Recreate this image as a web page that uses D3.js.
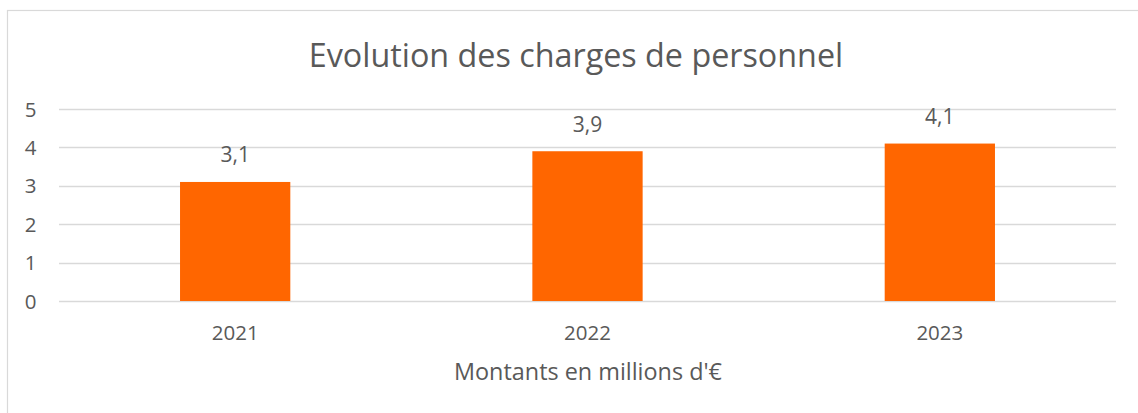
<!DOCTYPE html>
<html>
<head>
<meta charset="utf-8">
<script src="https://cdn.jsdelivr.net/npm/d3@7"></script>
<style>
  html, body { margin: 0; padding: 0; background: #fff; }
  svg { display: block; }
  text { font-family: "Open Sans", "Noto Sans", sans-serif; fill: #595959; }
</style>
</head>
<body>
<svg id="chart" width="1138" height="413"></svg>
<script>
// Personnel costs per year (millions of euros)
const years = ["2021", "2022", "2023"];
const amounts = [3.1, 3.9, 4.1];
const yTicks = [0, 1, 2, 3, 4, 5];
const title = "Evolution des charges de personnel";
const xTitle = "Montants en millions d'€";

const svg = d3.select("#chart");

// outer frame (continues past the right and bottom edges)
svg.append("rect")
  .attr("x", 7.5).attr("y", 10.5)
  .attr("width", 1140).attr("height", 420)
  .attr("fill", "#fff").attr("stroke", "#d9d9d9").attr("stroke-width", 1.2);

const plot = { left: 59, right: 1116, top: 109, bottom: 301 };

const x = d3.scaleBand()
  .domain(years)
  .range([plot.left, plot.right])
  .paddingInner(0.687)
  .paddingOuter(0.3435);

const y = d3.scaleLinear()
  .domain([0, 5])
  .range([plot.bottom, plot.top]);

// horizontal gridlines
svg.append("g")
  .selectAll("line")
  .data(yTicks)
  .join("line")
  .attr("x1", plot.left).attr("x2", plot.right)
  .attr("y1", d => Math.round(y(d)) + 0.5)
  .attr("y2", d => Math.round(y(d)) + 0.5)
  .attr("stroke", "#d9d9d9").attr("stroke-width", 1.3);

// y tick labels
svg.append("g")
  .selectAll("text")
  .data(yTicks)
  .join("text")
  .attr("x", 30.5)
  .attr("y", d => y(d) + 7.5)
  .attr("text-anchor", "middle")
  .attr("font-size", 20.5)
  .text(d => d);

// bars
svg.append("g")
  .selectAll("rect")
  .data(amounts)
  .join("rect")
  .attr("x", (d, i) => x(years[i]))
  .attr("width", x.bandwidth())
  .attr("y", d => y(d))
  .attr("height", d => y(0) - y(d))
  .attr("fill", "#ff6600");

// value labels
svg.append("g")
  .selectAll("text")
  .data(amounts)
  .join("text")
  .attr("x", (d, i) => x(years[i]) + x.bandwidth() / 2)
  .attr("y", d => y(d) - 19.5)
  .attr("text-anchor", "middle")
  .attr("font-size", 21)
  .text(d => d.toString().replace(".", ","));

// category labels
svg.append("g")
  .selectAll("text")
  .data(years)
  .join("text")
  .attr("x", d => x(d) + x.bandwidth() / 2)
  .attr("y", 340)
  .attr("text-anchor", "middle")
  .attr("font-size", 20.5)
  .text(d => d);

// axis title
svg.append("text")
  .attr("x", 588)
  .attr("y", 380)
  .attr("text-anchor", "middle")
  .attr("font-size", 23.4)
  .text(xTitle);

// chart title
svg.append("text")
  .attr("x", 576)
  .attr("y", 67)
  .attr("text-anchor", "middle")
  .attr("font-size", 32.3)
  .text(title);
</script>
</body>
</html>
